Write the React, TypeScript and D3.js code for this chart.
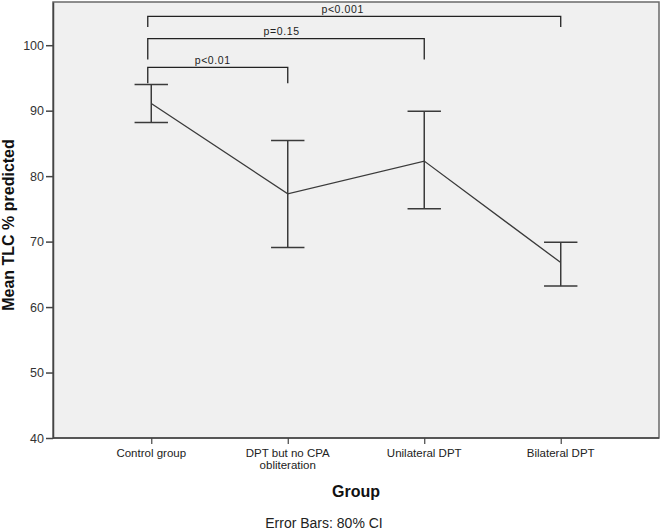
import React, { useEffect, useRef } from "react";
import * as d3 from "d3";

const categories = ["Control group", "DPT but no CPA obliteration", "Unilateral DPT", "Bilateral DPT"];
const categoryLines = [["Control group"], ["DPT but no CPA", "obliteration"], ["Unilateral DPT"], ["Bilateral DPT"]];
const means = [91.1, 77.3, 82.3, 66.8];
const upper = [94.0, 85.45, 89.9, 69.9];
const lower = [88.2, 69.1, 75.0, 63.2];
const yTicks = [40, 50, 60, 70, 80, 90, 100];

// significance brackets: control group vs each other group
const pLabels = ["p<0.01", "p=0.15", "p<0.001"];
const pTo = [1, 2, 3];
const pLevel = [96.6, 101.0, 104.4];
const pDrop = [94.2, 97.8, 102.8];

export default function App() {
  const ref = useRef<SVGSVGElement>(null);

  useEffect(() => {
    const width = 661,
      height = 530;
    const left = 53,
      top = 2,
      right = 659,
      bottom = 438;
    const font = "Liberation Sans, Arial, sans-serif";
    const svg = d3.select(ref.current);
    svg.selectAll("*").remove();

    svg.append("rect").attr("width", width).attr("height", height).attr("fill", "#fff");

    const x = d3.scalePoint<string>().domain(categories).range([left, right]).padding(0.72);
    const y = d3.scaleLinear().domain([40, 106.6]).range([bottom, top]);

    // plot frame
    svg
      .append("rect")
      .attr("x", left)
      .attr("y", top)
      .attr("width", right - left)
      .attr("height", bottom - top)
      .attr("fill", "#f0f0f0")
      .attr("stroke", "#6a6a6a")
      .attr("stroke-width", 1.5);

    // y axis
    const yAxis = svg
      .append("g")
      .attr("transform", `translate(${left},0)`)
      .call(d3.axisLeft(y).tickValues(yTicks).tickSize(7).tickPadding(2).tickSizeOuter(0));
    yAxis.select(".domain").attr("stroke", "#444").attr("stroke-width", 1.5);
    yAxis.selectAll(".tick line").attr("stroke", "#444").attr("stroke-width", 1.5);
    yAxis.selectAll(".tick text").attr("fill", "#333").attr("font-family", font).attr("font-size", 12.5);

    // x axis
    const xAxis = svg
      .append("g")
      .attr("transform", `translate(0,${bottom})`)
      .call(d3.axisBottom(x).tickSize(6).tickSizeOuter(0).tickFormat(() => ""));
    xAxis.select(".domain").attr("stroke", "#444").attr("stroke-width", 1.5).attr("d", `M${left},0H${right}`);
    xAxis.selectAll(".tick line").attr("stroke", "#444").attr("stroke-width", 1.2);

    categories.forEach((c, i) => {
      const t = svg
        .append("text")
        .attr("x", x(c)!)
        .attr("y", bottom + 19)
        .attr("text-anchor", "middle")
        .attr("fill", "#222")
        .attr("font-family", font)
        .attr("font-size", 11.5);
      categoryLines[i].forEach((line, j) => {
        t.append("tspan").attr("x", x(c)!).attr("dy", j === 0 ? 0 : 12).text(line);
      });
    });

    // mean line
    const line = d3
      .line<number>()
      .x((_, i) => x(categories[i])!)
      .y((d) => y(d));
    svg
      .append("path")
      .datum(means)
      .attr("fill", "none")
      .attr("stroke", "#3a3a3a")
      .attr("stroke-width", 1.3)
      .attr("d", line);

    // error bars
    const cap = 16.7;
    categories.forEach((c, i) => {
      const cx = x(c)!;
      const g = svg.append("g").attr("stroke", "#3a3a3a").attr("stroke-width", 1.5);
      g.append("line").attr("x1", cx).attr("x2", cx).attr("y1", y(lower[i])).attr("y2", y(upper[i]));
      g.append("line").attr("x1", cx - cap).attr("x2", cx + cap).attr("y1", y(upper[i])).attr("y2", y(upper[i]));
      g.append("line").attr("x1", cx - cap).attr("x2", cx + cap).attr("y1", y(lower[i])).attr("y2", y(lower[i]));
    });

    // significance brackets
    const x0 = x(categories[0])! - 3.5;
    const labelPos = [0.464, 0.484, 0.472];
    pLabels.forEach((lab, k) => {
      const x1 = x(categories[pTo[k]])!;
      const ly = y(pLevel[k]);
      const dy = y(pDrop[k]);
      svg
        .append("path")
        .attr("fill", "none")
        .attr("stroke", "#222")
        .attr("stroke-width", 1.3)
        .attr("d", `M${x0},${dy}V${ly}H${x1}V${dy}`);
      svg
        .append("text")
        .attr("x", x0 + (x1 - x0) * labelPos[k])
        .attr("y", ly - 3.5)
        .attr("text-anchor", "middle")
        .attr("fill", "#222")
        .attr("font-family", font)
        .attr("font-size", 10.5)
        .attr("letter-spacing", 0.6)
        .text(lab);
    });

    // titles
    svg
      .append("text")
      .attr("transform", `translate(14,225) rotate(-90)`)
      .attr("text-anchor", "middle")
      .attr("font-family", font)
      .attr("font-weight", "bold")
      .attr("font-size", 16)
      .attr("fill", "#111")
      .text("Mean TLC % predicted");

    svg
      .append("text")
      .attr("x", (x(categories[0])! + x(categories[3])!) / 2)
      .attr("y", 497)
      .attr("text-anchor", "middle")
      .attr("font-family", font)
      .attr("font-weight", "bold")
      .attr("font-size", 16)
      .attr("fill", "#111")
      .text("Group");

    svg
      .append("text")
      .attr("x", 324)
      .attr("y", 528)
      .attr("text-anchor", "middle")
      .attr("font-family", font)
      .attr("font-size", 14)
      .attr("fill", "#222")
      .text("Error Bars: 80% CI");
  }, []);

  return <svg ref={ref} width={661} height={530} style={{ position: "absolute", left: 0, top: 0 }} />;
}
